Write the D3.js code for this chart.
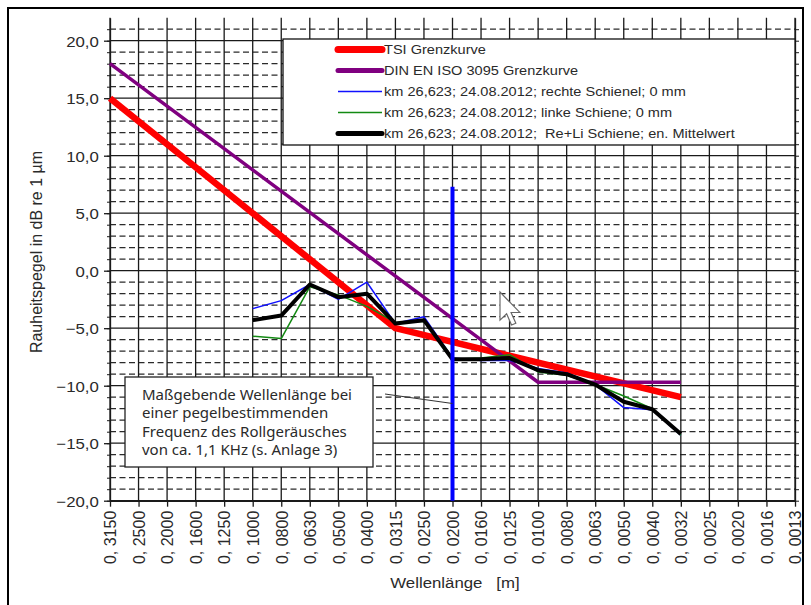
<!DOCTYPE html>
<html>
<head>
<meta charset="utf-8">
<script src="https://cdn.jsdelivr.net/npm/d3@7"></script>
<style>
  html, body { margin: 0; padding: 0; background: #fff; }
  text { font-family: "Liberation Sans", Arial, sans-serif; fill: #2a2a2a; white-space: pre; }
</style>
</head>
<body>
<script>
// 1/3-octave wavelength bands [m]
const wavelengths = ["0,3150","0,2500","0,2000","0,1600","0,1250","0,1000","0,0800","0,0630",
  "0,0500","0,0400","0,0315","0,0250","0,0200","0,0160","0,0125","0,0100","0,0080","0,0063",
  "0,0050","0,0040","0,0032","0,0025","0,0020","0,0016","0,0013"];

// Limit curves (corner points)
const tsiWavelengths = ["0,3150","0,0315","0,0032"];
const tsiValues = [15.0, -5.0, -11.0];
const isoWavelengths = ["0,3150","0,0100","0,0032"];
const isoValues = [18.0, -9.7, -9.7];

// Measurement km 26,623 on 24.08.2012
const measWavelengths = ["0,1000","0,0800","0,0630","0,0500","0,0400","0,0315","0,0250","0,0200",
  "0,0160","0,0125","0,0100","0,0080","0,0063","0,0050","0,0040","0,0032"];
const rightRail = [-3.3, -2.6, -1.2, -2.5, -1.0, -4.6, -4.0, -7.6, -7.8, -7.8, -8.5, -8.9, -9.9, -11.9, -12.1, -14.3];
const leftRail  = [-5.7, -5.9, -1.4, -2.1, -3.1, -4.5, -4.4, -7.7, -7.6, -7.3, -8.8, -9.1, -9.9, -10.9, -12.0, -14.3];
const meanRail  = [-4.3, -3.9, -1.2, -2.3, -2.0, -4.6, -4.3, -7.7, -7.7, -7.6, -8.65, -9.0, -9.9, -11.4, -12.05, -14.2];

// Governing wavelength marker (~1,1 kHz)
const markerWavelength = "0,0200";
const markerRange = [-20, 7.3];

const yMajorTicks = [-20, -15, -10, -5, 0, 5, 10, 15, 20];
const yMinorTicks = d3.range(-20, 22, 1);

const legendLabels = [
  "TSI Grenzkurve",
  "DIN EN ISO 3095 Grenzkurve",
  "km 26,623; 24.08.2012; rechte Schienel; 0 mm",
  "km 26,623; 24.08.2012; linke Schiene; 0 mm",
  "km 26,623; 24.08.2012;  Re+Li Schiene; en. Mittelwert"
];
const noteLines = [
  "Maßgebende Wellenlänge bei",
  "einer pegelbestimmenden",
  "Frequenz des Rollgeräusches",
  "von ca. 1,1 KHz (s. Anlage 3)"
];

const W = 811, H = 605;
const svg = d3.select("body").append("svg").attr("width", W).attr("height", H);
svg.append("rect").attr("width", W).attr("height", H).attr("fill", "#fff");

// outer frame
svg.append("rect").attr("x", 8).attr("y", 8).attr("width", 795).attr("height", 640)
  .attr("fill", "none").attr("stroke", "#000").attr("stroke-width", 2);

const x = d3.scalePoint().domain(wavelengths).range([110, 795]);
const y = d3.scaleLinear().domain([-20, 22]).range([500.7, 17.7]);
const x0 = x.range()[0], x1 = x.range()[1];

// horizontal text with slight widening
function wideText(sel, px, py, str, size, anchor) {
  return sel.append("text")
    .attr("transform", `translate(${px},${py}) scale(1.12,1)`)
    .attr("text-anchor", anchor || "start")
    .attr("xml:space", "preserve")
    .style("font-size", size + "px")
    .text(str);
}

// grid
const grid = svg.append("g");
grid.selectAll("line.minor").data(yMinorTicks.filter(v => v % 5 !== 0)).join("line")
  .attr("x1", x0).attr("x2", x1).attr("y1", d => y(d)).attr("y2", d => y(d))
  .attr("stroke", "#2b2b2b").attr("stroke-width", 1.2).attr("stroke-dasharray", "6,3.5");
grid.selectAll("line.major").data(yMajorTicks).join("line")
  .attr("x1", x0).attr("x2", x1).attr("y1", d => y(d)).attr("y2", d => y(d))
  .attr("stroke", "#1a1a1a").attr("stroke-width", 1.3);
grid.selectAll("line.vert").data(wavelengths).join("line")
  .attr("x1", d => x(d)).attr("x2", d => x(d)).attr("y1", y(22)).attr("y2", y(-20))
  .attr("stroke", "#1a1a1a").attr("stroke-width", 1.3);

// axes
const fmtY = d => d3.format(".1f")(d).replace(".", ",");
const yAxis = svg.append("g").attr("transform", `translate(${x0},0)`)
  .call(d3.axisLeft(y).tickValues(yMajorTicks).tickFormat(fmtY).tickSize(6).tickSizeOuter(0));
yAxis.select(".domain").attr("stroke", "#1a1a1a").attr("stroke-width", 1.3);
yAxis.selectAll(".tick line").attr("stroke", "#1a1a1a").attr("stroke-width", 1.3);
yAxis.selectAll(".tick text").attr("x", -10).attr("dy", ".36em")
  .attr("transform", "scale(1.12,1)").style("font-size", "15px")
  .style("font-family", "Liberation Sans, Arial, sans-serif").attr("fill", "#333");
svg.append("g").attr("transform", `translate(${x0},0)`)
  .call(d3.axisLeft(y).tickValues(yMinorTicks).tickFormat("").tickSize(3).tickSizeOuter(0))
  .call(g => g.select(".domain").remove())
  .selectAll(".tick line").attr("stroke", "#1a1a1a");

const rAxis = svg.append("g").attr("transform", `translate(${x1},0)`)
  .call(d3.axisRight(y).tickValues(yMinorTicks).tickFormat("").tickSize(4).tickSizeOuter(0));
rAxis.select(".domain").attr("stroke", "#1a1a1a").attr("stroke-width", 1.3);
rAxis.selectAll(".tick line").attr("stroke", "#1a1a1a");

const xAxis = svg.append("g").attr("transform", `translate(0,${y(-20)})`)
  .call(d3.axisBottom(x).tickSize(6).tickSizeOuter(0).tickFormat(d => d.replace(",", ", ")));
xAxis.select(".domain").attr("stroke", "#1a1a1a").attr("stroke-width", 1.6);
xAxis.selectAll(".tick line").attr("stroke", "#1a1a1a").attr("stroke-width", 1.3);
xAxis.selectAll(".tick text")
  .attr("transform", "rotate(-90)").attr("x", -10).attr("y", 0).attr("dy", ".36em")
  .attr("text-anchor", "end").style("font-size", "16px")
  .style("font-family", "Liberation Sans, Arial, sans-serif").attr("fill", "#3a3a3a");

// axis titles
wideText(svg, 455, 588, "Wellenlänge   [m]", 15, "middle");
svg.append("text").attr("transform", "translate(42,252) rotate(-90)")
  .attr("text-anchor", "middle").style("font-size", "16px")
  .text("Rauheitspegel in dB re 1 µm");

// series
const line = d3.line().x(d => x(d[0])).y(d => y(d[1]));
const zip = (a, b) => a.map((d, i) => [d, b[i]]);
const series = [
  { pts: zip(tsiWavelengths, tsiValues), color: "#ff0000", width: 6.5, lw: 7 },
  { pts: zip(isoWavelengths, isoValues), color: "#800080", width: 3.5, lw: 5 },
  { pts: zip(measWavelengths, rightRail), color: "#1010ff", width: 1.5, lw: 1.5 },
  { pts: zip(measWavelengths, leftRail), color: "#138a13", width: 1.5, lw: 1.5 },
  { pts: zip(measWavelengths, meanRail), color: "#000000", width: 4, lw: 5 }
];
svg.append("g").selectAll("path").data(series).join("path")
  .attr("d", d => line(d.pts)).attr("fill", "none")
  .attr("stroke", d => d.color).attr("stroke-width", d => d.width)
  .attr("stroke-linejoin", "round").attr("stroke-linecap", "butt");

// governing wavelength marker
svg.append("line")
  .attr("x1", x(markerWavelength)).attr("x2", x(markerWavelength))
  .attr("y1", y(markerRange[0])).attr("y2", y(markerRange[1]))
  .attr("stroke", "#0000ff").attr("stroke-width", 4);

// legend
const lg = svg.append("g");
lg.append("rect").attr("x", 283).attr("y", 39).attr("width", 512).attr("height", 106)
  .attr("fill", "#fff").attr("stroke", "#111").attr("stroke-width", 1.3);
const legendY = i => 49.5 + i * 21;
series.forEach((s, i) => {
  lg.append("line").attr("x1", 338).attr("x2", 382)
    .attr("y1", legendY(i)).attr("y2", legendY(i))
    .attr("stroke", s.color).attr("stroke-width", s.lw)
    .attr("stroke-linecap", s.lw > 3 ? "round" : "butt");
  wideText(lg, 384, legendY(i) + 4.6, legendLabels[i], 13, "start");
});

// note box with leader
const nb = svg.append("g");
nb.append("line").attr("x1", 385).attr("y1", 394).attr("x2", x(markerWavelength)).attr("y2", 403.5)
  .attr("stroke", "#333").attr("stroke-width", 1);
nb.append("rect").attr("x", 125).attr("y", 377).attr("width", 248).attr("height", 90)
  .attr("fill", "#fff").attr("stroke", "#222").attr("stroke-width", 1.3);
nb.selectAll("text").data(noteLines).join("text")
  .attr("x", 142).attr("y", (d, i) => 400 + i * 18.3)
  .style("font-family", "'Noto Sans', sans-serif").style("font-size", "15px")
  .attr("fill", "#3a3a3a").text(d => d);

// mouse pointer
svg.append("path")
  .attr("d", "M0,0 L0,17 L4,13.2 L7,20 L9.6,18.9 L6.7,12.4 L12,12.4 Z")
  .attr("transform", "translate(500,292) scale(1.65)")
  .attr("fill", "#fff").attr("stroke", "#666").attr("stroke-width", 0.7);
</script>
</body>
</html>
